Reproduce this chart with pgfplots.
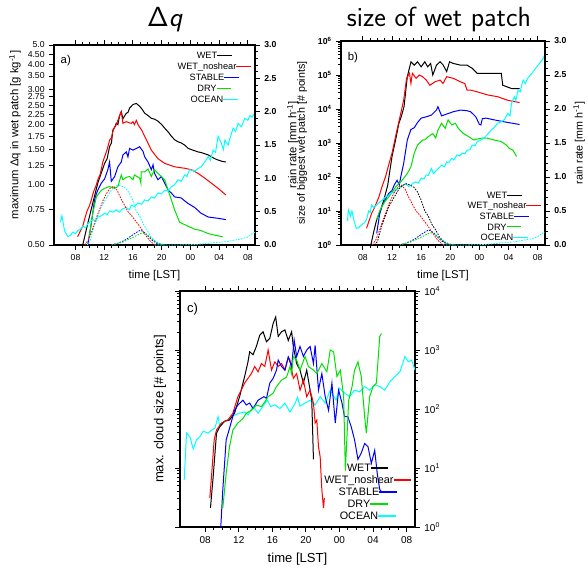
\documentclass[border=0pt]{standalone}
\usepackage[no-math]{fontspec}
\setmainfont{Liberation Sans}
\usepackage{pgfplots}
\pgfplotsset{compat=1.18}

\definecolor{nclgreen}{RGB}{0,225,0}
\definecolor{nclcyan}{RGB}{0,255,255}

\pgfplotsset{
  ncl/.style={
    scale only axis, xmin=5, xmax=33,
    xtick={8,12,16,20,24,28,32}, xticklabels={08,12,16,20,00,04,08},
    minor x tick num=3,
    tick align=outside,
    major tick length=3.5pt, minor tick length=2pt,
    tick style={black, line width=0.7pt},
    axis line style={line width=1pt},
    tick label style={font=\fontsize{6.5}{7}\selectfont},
    label style={font=\fontsize{8.5}{10}\selectfont},
    every axis plot/.append style={line width=0.75pt},
  },
  rain/.style={line width=0.6pt, dash pattern=on 1.2pt off 0.9pt},
}
% legend entry: centred text, line after it
\newcommand{\lentry}[2]{#2\rlap{\textcolor{#1}{\rule[0.28em]{11pt}{1pt}}}}
\newcommand{\lentryc}[2]{#2\rlap{\textcolor{#1}{\rule[0.28em]{13pt}{1.1pt}}}}

\begin{document}
\begin{tikzpicture}

% ---------------- panel a ----------------
\begin{axis}[ncl, at={(40.5pt,-183.75pt)}, anchor=south west,
  width=150.75pt, height=150pt,
  ymode=log, ymin=0.5, ymax=5,
  ytick={0.5,0.75,1,1.25,1.5,1.75,2,2.25,2.5,2.75,3,3.5,4,4.5,5},
  yticklabels={0.50,0.75,1.00,1.25,1.50,1.75,2.00,2.25,2.50,2.75,3.00,3.50,4.00,4.50,5.0},
  minor ytick={}, ytick pos=left,
  xlabel={time [LST]},
  xlabel style={at={(rel axis cs:0.5,0)}, anchor=center, yshift=-23.25pt},
  ylabel={maximum Δq in wet patch [g kg\textsuperscript{-1}]},
  ylabel style={at={(rel axis cs:0,0.55)}, anchor=center, yshift=29.25pt},
]
\addplot[black] coordinates {(9.0,0.5)(9.7,0.64)(10.4,0.81)(11.1,1.02)(12.05,1.28)(12.4,1.35)(12.74,1.55)(13.0,1.62)(13.2,1.88)(13.5,1.95)(13.67,2.03)(13.9,2.0)(14.14,2.22)(14.37,2.32)(14.6,2.14)(15.07,2.28)(15.3,2.3)(15.53,2.42)(16.0,2.52)(16.47,2.55)(16.93,2.47)(17.3,2.38)(17.63,2.28)(18.1,2.22)(18.56,2.15)(19.0,2.13)(19.49,2.08)(20.0,2.0)(20.42,1.92)(21.0,1.82)(21.35,1.75)(21.8,1.68)(22.28,1.64)(22.7,1.62)(23.21,1.58)(23.7,1.52)(24.14,1.50)(24.6,1.48)(25.07,1.46)(25.5,1.45)(26.0,1.43)(26.5,1.41)(26.93,1.38)(27.4,1.35)(27.86,1.33)(28.4,1.31)(28.93,1.30)};
\addplot[red] coordinates {(8.3,0.55)(8.6,0.58)(9.0,0.62)(9.25,0.67)(9.6,0.74)(9.9,0.78)(10.2,0.84)(10.5,0.92)(10.9,1.0)(11.1,1.06)(11.4,1.12)(11.6,1.2)(11.8,1.3)(12.05,1.38)(12.4,1.5)(12.74,1.67)(13.0,1.72)(13.2,1.85)(13.45,1.95)(13.7,2.0)(13.9,2.1)(14.14,2.22)(14.37,2.32)(14.6,2.03)(15.07,2.07)(15.5,2.04)(15.77,2.03)(16.0,2.07)(16.2,2.0)(16.47,2.1)(16.7,2.0)(17.2,1.88)(17.9,1.67)(18.56,1.49)(19.49,1.35)(20.42,1.28)(21.8,1.23)(23.2,1.21)(24.14,1.19)(25.07,1.14)(26.0,1.08)(26.9,1.02)(27.86,0.96)(28.93,0.89)};
\addplot[blue] coordinates {(9.7,0.5)(9.9,0.55)(10.2,0.64)(10.4,0.72)(10.65,0.84)(10.9,0.9)(11.1,0.94)(11.6,1.02)(12.05,1.07)(12.5,1.19)(12.74,1.30)(12.98,1.04)(13.45,1.10)(13.9,1.23)(14.37,1.30)(14.6,1.41)(15.07,1.46)(15.3,1.38)(15.53,1.52)(16.0,1.49)(16.47,1.52)(16.93,1.55)(17.4,1.47)(17.63,1.38)(18.1,1.30)(18.56,1.19)(18.8,1.26)(19.0,1.14)(19.49,1.06)(19.95,1.10)(20.42,1.02)(20.9,0.94)(21.35,0.91)(21.8,0.87)(22.7,0.86)(23.6,0.81)(24.6,0.77)(25.5,0.72)(26.5,0.69)(27.86,0.68)(28.93,0.67)};
\addplot[nclgreen] coordinates {(9.9,0.55)(10.4,0.72)(10.9,0.87)(11.6,0.94)(12.05,0.96)(12.74,0.98)(13.45,0.96)(13.9,0.98)(14.37,1.12)(14.6,1.06)(15.07,1.09)(15.53,1.10)(16.0,1.06)(16.2,1.12)(16.93,1.08)(17.1,1.02)(17.15,1.16)(17.63,1.16)(18.1,1.20)(18.56,1.10)(19.0,1.19)(19.49,1.14)(19.95,1.10)(20.42,1.06)(20.9,0.94)(21.35,0.84)(21.8,0.75)(22.5,0.65)(23.7,0.62)(24.6,0.60)(25.5,0.59)(26.5,0.57)(27.4,0.56)(28.5,0.55)};
\addplot[nclcyan] coordinates {(5.9,0.65)(6.1,0.70)(6.47,0.59)(6.93,0.55)(7.3,0.56)(7.63,0.58)(8.0,0.57)(8.33,0.59)(8.7,0.60)(9.02,0.62)(9.4,0.61)(9.72,0.64)(10.1,0.66)(10.42,0.67)(10.8,0.66)(11.1,0.69)(11.6,0.70)(12.05,0.72)(12.4,0.71)(12.74,0.74)(13.2,0.73)(13.67,0.75)(14.1,0.73)(14.6,0.76)(15.07,0.77)(15.5,0.75)(15.77,0.79)(16.2,0.78)(16.7,0.81)(17.2,0.80)(17.63,0.84)(18.1,0.83)(18.56,0.87)(19.0,0.86)(19.49,0.91)(19.95,0.90)(20.42,0.94)(20.9,0.93)(21.35,0.98)(21.8,1.00)(22.28,1.06)(22.7,1.04)(23.21,1.12)(23.5,1.10)(23.9,1.19)(24.6,1.17)(25.0,1.20)(25.5,1.23)(26.0,1.30)(26.47,1.38)(26.8,1.33)(27.16,1.49)(27.5,1.45)(27.86,1.75)(28.3,1.62)(28.6,1.50)(28.8,1.67)(29.26,1.58)(29.5,1.70)(29.95,1.92)(30.3,1.85)(30.65,2.03)(31.1,1.95)(31.58,2.15)(32.0,2.10)(32.3,2.22)(32.6,2.18)(33.0,2.30)};
\node[anchor=north west, font=\fontsize{8.5}{10}\selectfont] at (rel axis cs:0.01,0.97) {a)};
\end{axis}

\begin{axis}[ncl, at={(40.5pt,-183.75pt)}, anchor=south west,
  width=150.75pt, height=150pt,
  axis x line=none, axis y line*=right, tick align=outside,
  ymin=0, ymax=3, ytick={0,0.5,1,1.5,2,2.5,3},
  yticklabels={\textbf{0.0},\textbf{0.5},\textbf{1.0},\textbf{1.5},\textbf{2.0},\textbf{2.5},\textbf{3.0}},
  minor y tick num=4,
  ylabel={rain rate [mm h\textsuperscript{-1}]},
  ylabel style={at={(rel axis cs:1,0.5)}, anchor=center, yshift=-28.5pt},
]
\addplot[nclcyan, rain] coordinates {(9.6,0)(10.0,0.05)(10.5,0.25)(11.0,0.40)(11.5,0.55)(12.0,0.65)(12.5,0.74)(13.0,0.83)(13.5,0.88)(14.0,0.90)(14.5,0.88)(15.0,0.85)(15.5,0.78)(16.0,0.66)(16.5,0.50)(17.0,0.42)(17.5,0.30)(18.0,0.22)(18.5,0.12)(19.0,0.06)(19.5,0.02)(20.0,0)};
\addplot[red, rain] coordinates {(9.3,0)(9.8,0.08)(10.3,0.22)(10.8,0.38)(11.3,0.52)(11.8,0.66)(12.3,0.77)(12.8,0.85)(13.3,0.88)(13.8,0.82)(14.3,0.70)(14.8,0.60)(15.3,0.50)(15.8,0.44)(16.3,0.37)(16.8,0.30)(17.3,0.22)(17.8,0.14)(18.3,0.07)(18.8,0.02)(19.2,0)};
\addplot[blue, rain] coordinates {(13,0)(14,0.03)(15,0.08)(15.8,0.14)(16.5,0.19)(17.0,0.22)(17.3,0.21)(17.8,0.17)(18.3,0.11)(18.8,0.06)(19.4,0.02)(20,0)};
\addplot[nclgreen, rain] coordinates {(13,0)(14.5,0.04)(15.5,0.09)(16.3,0.13)(17.0,0.17)(17.4,0.18)(18.0,0.15)(18.6,0.10)(19.2,0.05)(19.8,0.02)(20.5,0)};
\addplot[nclcyan, rain] coordinates {(19,0)(22,0)(24,0.005)(25,0.01)(26,0.02)(27,0.03)(28,0.04)(29,0.05)(30,0.07)(31,0.09)(32,0.12)(32.6,0.17)(33,0.19)};
\end{axis}

% ---------------- panel b ----------------
\begin{axis}[ncl, at={(255.75pt,-183.75pt)}, anchor=south west,
  width=153pt, height=153pt,
  ymode=log, ymin=1, ymax=1e6,
  ytick={1,10,100,1000,10000,100000,1000000},
  yticklabels={\textbf{10}\textsuperscript{\textbf{0}},\textbf{10}\textsuperscript{\textbf{1}},\textbf{10}\textsuperscript{\textbf{2}},\textbf{10}\textsuperscript{\textbf{3}},\textbf{10}\textsuperscript{\textbf{4}},\textbf{10}\textsuperscript{\textbf{5}},\textbf{10}\textsuperscript{\textbf{6}}},
  minor ytick={}, ytick pos=left,
  xlabel={time [LST]},
  xlabel style={at={(rel axis cs:0.5,0)}, anchor=center, yshift=-23.25pt},
  ylabel={size of biggest wet patch [\# points]},
  ylabel style={at={(rel axis cs:0,0.5)}, anchor=center, yshift=29.25pt, font=\fontsize{8}{9.5}\selectfont},
]
\addplot[black] coordinates {(9.1,1)(9.5,2.5)(9.9,5.6)(10.4,10)(10.9,22)(11.4,56)(12.0,400)(12.5,1260)(12.95,3800)(13.3,6300)(13.65,11700)(14.1,89000)(14.6,245000)(15.05,195000)(15.5,245000)(16.0,174000)(16.5,245000)(16.9,174000)(17.3,219000)(17.6,100000)(18.1,195000)(18.6,245000)(19.0,200000)(19.5,126000)(19.9,245000)(20.4,219000)(21.4,195000)(22.3,195000)(23.0,158000)(23.7,112000)(25.1,112000)(27.0,112000)(27.2,50000)(28.4,40000)(29.5,40000)};
\addplot[red] coordinates {(8.5,3.1)(9.2,8.5)(9.6,12.6)(10.2,26)(10.6,50)(11.1,100)(11.6,250)(12.0,500)(12.5,1600)(13.0,4800)(13.6,18000)(14.0,80000)(14.4,112000)(14.6,56000)(14.8,112000)(15.3,80000)(15.75,100000)(16.2,89000)(16.7,71000)(17.2,50000)(17.9,63000)(18.6,71000)(19.0,56000)(19.5,89000)(20.4,80000)(21.4,63000)(22.0,56000)(22.3,36000)(22.8,36000)(23.7,32000)(25.1,26000)(26.5,23000)(27.9,18000)(29.5,15500)};
\addplot[blue] coordinates {(9.9,2.2)(10.3,8)(10.6,13.5)(11.1,22)(11.55,33)(12.0,40)(12.3,58)(12.7,80)(13.0,58)(13.2,100)(13.6,250)(14.1,1230)(14.6,2500)(15.05,2800)(15.5,4000)(16.0,5400)(16.7,5900)(17.4,6600)(18.1,9300)(18.3,11700)(18.8,6300)(19.5,7100)(20.4,8300)(21.4,9300)(22.3,8900)(22.8,8300)(23.5,5900)(24.0,3500)(24.2,3400)(24.4,5200)(24.9,5400)(26.0,4800)(27.4,4200)(29.5,3500)};
\addplot[nclgreen] coordinates {(9.9,5.5)(10.3,10)(10.6,13.5)(11.1,20)(11.55,26)(12.0,35)(12.5,51)(13.0,65)(13.4,81)(14.1,126)(14.6,200)(15.05,500)(15.5,870)(16.2,1230)(16.5,1230)(17.0,1550)(17.6,1900)(18.0,1400)(18.3,2400)(18.8,3800)(19.3,2700)(19.7,4800)(20.2,3400)(20.7,3800)(21.1,2700)(21.8,1900)(22.5,1550)(23.2,1230)(24.2,1380)(25.1,1380)(26.0,1230)(27.0,1100)(27.7,870)(28.1,690)(28.6,620)(29.1,400)};
\addplot[nclcyan] coordinates {(5.9,5)(6.0,11)(6.3,7)(6.5,10)(6.8,5)(7.1,3.1)(7.4,3.2)(7.8,3.9)(8.2,4.5)(8.5,5.5)(8.8,10)(9.0,9)(9.2,15)(9.5,12.6)(10.0,16)(10.4,19)(10.8,22)(11.1,26)(11.5,28)(11.8,33)(12.2,35)(12.5,42)(12.9,45)(13.2,52)(13.5,56)(13.9,65)(14.3,52)(14.6,58)(15.0,68)(15.3,72)(15.6,66)(16.0,91)(16.4,89)(16.7,115)(17.0,112)(17.4,178)(17.7,126)(18.1,158)(18.5,190)(18.8,224)(19.2,200)(19.5,280)(19.8,263)(20.2,355)(20.5,316)(20.9,447)(21.3,417)(21.6,500)(22.0,479)(22.3,617)(22.7,630)(23.0,870)(23.4,830)(23.7,1100)(24.2,1230)(24.6,1380)(25.1,1780)(25.6,2400)(26.0,2800)(26.5,3800)(27.0,4200)(27.4,4800)(27.9,7400)(28.2,6300)(28.4,14800)(28.8,23000)(29.0,18000)(29.3,36000)(29.6,32000)(29.8,50000)(30.0,71000)(30.3,56000)(30.6,79000)(31.2,112000)(31.9,178000)(32.6,275000)(33.0,400000)};
\node[anchor=north west, font=\fontsize{8.5}{10}\selectfont] at (rel axis cs:0.01,0.97) {b)};
\end{axis}

\begin{axis}[ncl, at={(255.75pt,-183.75pt)}, anchor=south west,
  width=153pt, height=153pt,
  axis x line=none, axis y line*=right, tick align=outside,
  ymin=0, ymax=3, ytick={0,0.5,1,1.5,2,2.5,3},
  yticklabels={\textbf{0.0},\textbf{0.5},\textbf{1.0},\textbf{1.5},\textbf{2.0},\textbf{2.5},\textbf{3.0}},
  minor y tick num=4,
  ylabel={rain rate [mm h\textsuperscript{-1}]},
  ylabel style={at={(rel axis cs:1,0.5)}, anchor=center, yshift=-25.5pt, font=\fontsize{8}{9.5}\selectfont},
]
\addplot[black, rain] coordinates {(9.6,0)(10.0,0.05)(10.5,0.25)(11.0,0.40)(11.5,0.55)(12.0,0.65)(12.5,0.74)(13.0,0.83)(13.5,0.88)(14.0,0.90)(14.5,0.88)(15.0,0.85)(15.5,0.78)(16.0,0.66)(16.5,0.50)(17.0,0.42)(17.5,0.30)(18.0,0.22)(18.5,0.12)(19.0,0.06)(19.5,0.02)(20.0,0)};
\addplot[red, rain] coordinates {(9.3,0)(9.8,0.08)(10.3,0.22)(10.8,0.38)(11.3,0.52)(11.8,0.66)(12.3,0.77)(12.8,0.85)(13.3,0.88)(13.8,0.82)(14.3,0.70)(14.8,0.60)(15.3,0.50)(15.8,0.44)(16.3,0.37)(16.8,0.30)(17.3,0.22)(17.8,0.14)(18.3,0.07)(18.8,0.02)(19.2,0)};
\addplot[blue, rain] coordinates {(13,0)(14,0.03)(15,0.08)(15.8,0.14)(16.5,0.19)(17.0,0.22)(17.3,0.21)(17.8,0.17)(18.3,0.11)(18.8,0.06)(19.4,0.02)(20,0)};
\addplot[nclgreen, rain] coordinates {(13,0)(14.5,0.04)(15.5,0.09)(16.3,0.13)(17.0,0.17)(17.4,0.18)(18.0,0.15)(18.6,0.10)(19.2,0.05)(19.8,0.02)(20.5,0)};
\addplot[nclcyan, rain] coordinates {(19,0)(22,0)(24,0.005)(25,0.01)(26,0.02)(27,0.03)(28,0.04)(29,0.05)(30,0.07)(31,0.09)(32,0.12)(32.6,0.17)(33,0.19)};
\end{axis}

% ---------------- panel c ----------------
\begin{axis}[ncl, at={(135pt,-395.25pt)}, anchor=south west,
  width=176.25pt, height=177pt,
  ymode=log, ymin=1, ymax=1e4,
  ytick={1,10,100,1000,10000},
  yticklabels={10\textsuperscript{0},10\textsuperscript{1},10\textsuperscript{2},10\textsuperscript{3},10\textsuperscript{4}},
  ytick pos=both, yticklabel pos=right,
  tick label style={font=\fontsize{7.5}{8.5}\selectfont},
  label style={font=\fontsize{9.8}{11}\selectfont},
  xlabel={time [LST]},
  xlabel style={at={(rel axis cs:0.5,0)}, anchor=center, yshift=-24pt},
  ylabel={max. cloud size [\# points]},
  ylabel style={at={(rel axis cs:0,0.5)}, anchor=center, yshift=15pt},
]
\addplot[nclcyan] coordinates {(5.5,6.3)(5.78,39)(6.18,34)(6.57,21)(6.97,30)(7.37,34)(7.76,42)(8.36,39)(8.75,44)(9.15,47)(9.54,74)(9.74,50)(10.3,62)(10.9,69)(11.5,79)(12.1,85)(12.7,89)(13.1,79)(13.7,110)(14.3,85)(15.0,117)(15.4,141)(15.8,110)(16.3,117)(16.9,102)(17.5,126)(18.1,89)(18.7,123)(19.0,158)(19.3,112)(19.9,126)(20.5,141)(21.1,117)(21.7,162)(22.3,126)(22.9,209)(23.6,141)(24.0,224)(24.6,186)(25.2,162)(25.8,209)(26.4,195)(27.0,240)(27.6,209)(28.2,257)(28.8,240)(29.4,209)(30.0,288)(30.6,355)(31.2,427)(31.8,776)(32.2,631)(32.6,676)(33.0,457)};
\addplot[black] coordinates {(8.63,2.1)(8.95,7.1)(9.35,39)(9.74,50)(10.3,62)(10.9,65)(11.5,85)(12.1,162)(12.7,355)(13.1,631)(13.3,933)(13.7,832)(14.1,1150)(14.5,1780)(14.9,2040)(15.3,1380)(15.7,1580)(16.1,2820)(16.4,3630)(16.7,1700)(17.1,2040)(17.5,2190)(17.9,1450)(18.3,2040)(18.5,1150)(18.9,589)(19.3,457)(19.7,275)(20.1,457)(20.5,209)(20.7,141)(20.9,14)};
\addplot[red] coordinates {(8.55,3.1)(8.75,7.1)(9.07,30)(9.35,44)(9.94,58)(10.7,65)(11.3,85)(11.9,162)(12.3,209)(12.7,275)(13.1,331)(13.5,398)(13.9,525)(14.3,427)(14.7,589)(15.1,525)(15.5,1000)(15.9,457)(16.3,631)(16.7,525)(17.1,589)(17.5,457)(17.9,759)(18.1,676)(18.5,331)(18.9,398)(19.3,209)(19.7,309)(20.1,162)(20.5,209)(20.9,126)(21.1,58)(21.3,65)(21.5,23)(21.7,15.5)(21.9,4.3)(22.1,2.1)(22.2,3.1)};
\addplot[blue] coordinates {(9.86,1)(10.1,4.3)(10.5,30)(10.9,47)(11.5,95)(11.9,117)(12.5,141)(12.9,117)(13.3,126)(13.7,102)(14.3,141)(15.0,162)(15.3,151)(15.7,275)(16.1,331)(16.5,457)(16.7,676)(17.1,525)(17.5,457)(17.9,759)(18.3,525)(18.6,1480)(18.9,776)(19.3,1150)(19.7,776)(20.1,1000)(20.5,1150)(20.9,589)(21.1,1200)(21.5,209)(21.9,398)(22.3,162)(22.7,95)(23.1,275)(23.5,58)(23.9,209)(24.3,126)(24.6,74)(25.0,74)(25.4,50)(25.8,30)(26.2,14)(26.6,18)(27.0,26)(27.4,23)(27.8,12)(28.2,20)(28.5,8.1)(28.8,4.3)(29.0,4.0)};
\addplot[nclgreen] coordinates {(10.1,2.1)(10.5,8.1)(10.9,23)(11.3,44)(11.9,58)(12.5,69)(12.9,85)(13.5,95)(14.1,117)(14.7,110)(15.1,132)(15.5,162)(16.1,186)(16.5,240)(17.1,309)(17.7,347)(18.1,525)(18.3,398)(18.5,776)(18.9,676)(19.3,457)(19.9,776)(20.3,525)(20.9,457)(21.3,398)(21.9,589)(22.5,427)(22.9,1000)(23.3,933)(23.7,355)(24.1,457)(24.5,162)(24.7,9)(25.1,141)(25.5,240)(25.8,457)(26.2,631)(26.6,355)(27.0,74)(27.2,39)(27.6,162)(28.0,240)(28.4,275)(28.8,1700)(29.0,1900)};
\node[anchor=north west, font=\fontsize{9.8}{11}\selectfont] at (rel axis cs:0.01,0.97) {c)};
\end{axis}

% titles
\node[anchor=base, font=\sffamily\fontsize{20.74}{24}\selectfont] at (123.75pt,-20.25pt) {$\mathsf{\Delta}$\textit{q}};
\node[anchor=base, font=\sffamily\fontsize{20.74}{24}\selectfont] at (329.25pt,-20.25pt) {size of wet patch};

% legends
\begin{scope}[every node/.style={anchor=mid, inner sep=0pt, font=\fontsize{6.9}{8}\selectfont}]
\node at (155.25pt,-41.25pt) {\lentry{black}{WET}};
\node at (155.25pt,-49.5pt) {\lentry{red}{WET\_noshear}};
\node at (155.25pt,-57.75pt) {\lentry{blue}{STABLE}};
\node at (155.25pt,-66pt) {\lentry{nclgreen}{DRY}};
\node at (155.25pt,-74.25pt) {\lentry{nclcyan}{OCEAN}};
\node at (372.75pt,-146.25pt) {\lentry{black}{WET}};
\node at (372.75pt,-154.1pt) {\lentry{red}{WET\_noshear}};
\node at (372.75pt,-162pt) {\lentry{blue}{STABLE}};
\node at (372.75pt,-169.9pt) {\lentry{nclgreen}{DRY}};
\node at (372.75pt,-177.75pt) {\lentry{nclcyan}{OCEAN}};
\end{scope}
\begin{scope}[every node/.style={anchor=mid, inner sep=0pt, font=\fontsize{8.1}{9.5}\selectfont}]
\node at (269.25pt,-351pt) {\lentryc{black}{WET}};
\node at (269.25pt,-360pt) {\lentryc{red}{WET\_noshear}};
\node at (269.25pt,-369pt) {\lentryc{blue}{STABLE}};
\node at (269.25pt,-378pt) {\lentryc{nclgreen}{DRY}};
\node at (269.25pt,-387pt) {\lentryc{nclcyan}{OCEAN}};
\end{scope}

\pgfresetboundingbox
\path[use as bounding box] (0,0) rectangle (441pt,-425.25pt);
\end{tikzpicture}
\end{document}
